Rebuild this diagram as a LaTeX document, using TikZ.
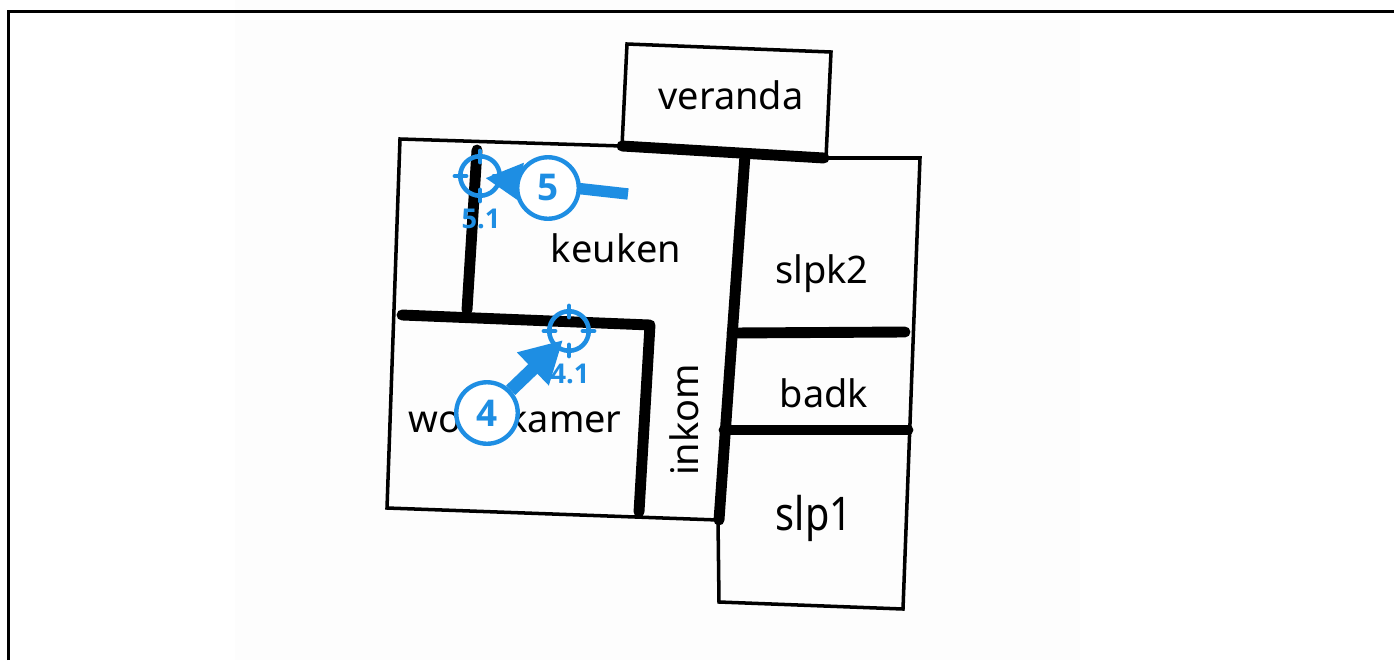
\documentclass[tikz,border=0pt]{standalone}
\usepackage{fontspec}
\usepackage{xcolor}
\setmainfont{Noto Sans}
\newfontfamily\markfont{Open Sans}
\usetikzlibrary{arrows.meta}
\definecolor{markblue}{HTML}{1E8EE3}
\definecolor{paper}{HTML}{FDFDFD}
\tikzset{
	thinwall/.style={line width=2pt,line join=miter},
	thickwall/.style={line width=6.2pt,line cap=round,line join=round},
	room/.style={inner sep=0pt,font=\fontsize{21.6}{21.6}\selectfont},
	stepmark/.style={circle,draw=markblue,fill=white,line width=2.5pt,minimum size=35pt,inner sep=0pt,text=markblue,font=\fontsize{21}{21}\markfont\bfseries},
	target/.style={circle,draw=markblue,line width=2.6pt,minimum size=22.5pt,inner sep=0pt},
	targetlabel/.style={text=markblue,inner sep=0pt,font=\fontsize{15.5}{15.5}\markfont\bfseries},
	targettick/.style={draw=markblue,line width=2.8pt,line cap=round},
}
\begin{document}
\begin{tikzpicture}[x=0.02cm,y=-0.02cm]
	\useasboundingbox (0,0) rectangle (1394,660);
	\fill[paper] (235,0) rectangle (1080,660);
	\draw[line width=1.9pt] (8.5,660) -- (8.5,11.5) -- (1394,11.5);

	% outline
	\draw[thinwall] (622,146) -- (627,44) -- (831,52) -- (826,158);
	\draw[thinwall] (622,146) -- (400,139) -- (387,508) -- (718,520);
	\draw[thinwall] (826,158) -- (920,158) -- (903,609) -- (719,602) -- (718,520);

	% walls
	\draw[thickwall] (622,146) -- (824,158);
	\draw[thickwall] (745,155) -- (719,520);
	\draw[thickwall] (477,150) -- (467,310);
	\draw[thickwall] (402,315) -- (650,325) -- (639,512);
	\draw[thickwall] (732,333) -- (905,332);
	\draw[thickwall] (724,430) -- (908,430);

	% rooms
	\node[room] (veranda) at (731,95) {veranda};
	\node[room] (keuken) at (616,248) {keuken};
	\node[room] (slpk2) at (822,274) {slpk2};
	\node[room] (badk) at (824,393) {badk};
	\node[room,xscale=0.94,yscale=1.1,font=\fontsize{24}{24}\selectfont] (slp1) at (814,518) {slp1};
	\node[room,rotate=90] (inkom) at (684,420) {inkom};
	\node[room] (woonkamer) at (515,418) {woonkamer};

	% targets
	\node[target] (target4) at (569,331) {};
	\node[target] (target5) at (480,176) {};
	\foreach \t in {target4,target5}{
		\foreach \a in {0,90,180,270}{
			\draw[targettick] (\t.center) ++(\a:14) -- ++(\a:11);
		}
	}

	% arrows
	\coordinate (tip4) at (563,340);
	\coordinate (tip5) at (485,178);
	\coordinate (tail5) at (628,194);
	\node[stepmark] (step4) at (487,413) {4};
	\draw[markblue,line width=7.5pt,-{Triangle[length=23.8pt,width=24.4pt]}] (step4) -- (tip4);
	\draw[markblue,line width=6.5pt,-{Triangle[length=21pt,width=20.5pt]}] (tail5) -- (tip5);
	\node[stepmark] (step5) at (548,188) {5};

	\node[targetlabel] (label4) at (570,374) {4.1};
	\node[targetlabel] (label5) at (481,219) {5.1};
\end{tikzpicture}
\end{document}
